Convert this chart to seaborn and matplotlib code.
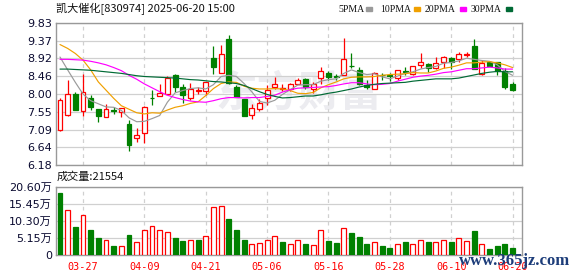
import numpy as np
import pandas as pd
import matplotlib
matplotlib.use("Agg")
import matplotlib.pyplot as plt
from matplotlib.patches import Rectangle
import seaborn as sns

title = "凯大催化[830974] 2025-06-20 15:00"
dates = ["03-24", "03-25", "03-26", "03-27", "03-28", "03-31", "04-01", "04-02", "04-03", "04-07",
         "04-08", "04-09", "04-10", "04-11", "04-14", "04-15", "04-16", "04-17", "04-18", "04-21",
         "04-22", "04-23", "04-24", "04-25", "04-28", "04-29", "04-30", "05-06", "05-07", "05-08",
         "05-09", "05-12", "05-13", "05-14", "05-15", "05-16", "05-19", "05-20", "05-21", "05-22",
         "05-23", "05-26", "05-27", "05-28", "05-29", "05-30", "06-03", "06-04", "06-05", "06-06",
         "06-09", "06-10", "06-11", "06-12", "06-13", "06-16", "06-17", "06-18", "06-19", "06-20"]
opens = [7.07, 7.47, 8.00, 7.57, 7.89, 7.62, 7.41, 7.60, 7.55, 7.22,
         6.86, 6.99, 7.91, 7.94, 8.00, 8.48, 8.17, 7.91, 8.08, 8.08,
         8.92, 8.53, 9.42, 8.17, 7.87, 7.46, 7.62, 7.89, 8.17, 8.13,
         8.13, 8.27, 8.39, 8.12, 8.42, 8.54, 8.45, 8.50, 8.73, 8.62,
         8.23, 8.13, 8.50, 8.49, 8.42, 8.58, 8.52, 8.74, 8.77, 8.67,
         8.81, 8.92, 8.89, 8.99, 9.23, 8.52, 8.81, 8.83, 8.58, 8.27]
highs = [7.89, 8.37, 8.06, 8.52, 7.97, 7.62, 7.75, 7.66, 7.64, 7.33,
         7.12, 7.70, 8.10, 8.27, 8.46, 8.52, 8.27, 8.29, 8.18, 8.30,
         9.23, 9.27, 9.52, 8.23, 7.87, 7.75, 7.87, 8.23, 8.45, 8.25,
         8.29, 8.42, 8.41, 8.31, 8.70, 8.60, 8.52, 9.45, 9.06, 8.70,
         8.35, 8.56, 8.54, 8.54, 8.62, 8.70, 8.72, 9.04, 8.79, 8.96,
         8.98, 8.95, 9.08, 9.09, 9.42, 8.87, 8.84, 8.83, 8.67, 8.31]
lows = [7.04, 7.43, 7.60, 7.43, 7.60, 7.28, 7.41, 7.49, 7.41, 6.53,
        6.78, 6.75, 7.71, 7.94, 8.00, 8.06, 7.77, 7.85, 7.99, 7.97,
        8.52, 8.53, 8.27, 7.93, 7.43, 7.37, 7.56, 7.72, 8.14, 8.08,
        8.08, 8.25, 8.14, 8.02, 8.27, 8.35, 8.35, 8.48, 8.67, 8.23,
        8.14, 8.13, 8.37, 8.33, 8.35, 8.48, 8.48, 8.66, 8.56, 8.64,
        8.67, 8.64, 8.81, 8.94, 8.64, 8.49, 8.71, 8.48, 8.13, 8.07]
closes = [7.85, 7.99, 7.60, 8.05, 7.66, 7.43, 7.62, 7.56, 7.63, 6.70,
          6.96, 7.67, 7.89, 8.02, 8.41, 8.18, 7.97, 8.13, 8.09, 8.30,
          8.69, 9.02, 8.29, 7.93, 7.43, 7.64, 7.77, 8.10, 8.27, 8.15,
          8.25, 8.37, 8.17, 8.27, 8.60, 8.45, 8.44, 8.89, 8.71, 8.27,
          8.19, 8.54, 8.48, 8.47, 8.62, 8.56, 8.72, 8.83, 8.67, 8.79,
          8.95, 8.81, 9.02, 9.03, 8.64, 8.79, 8.73, 8.58, 8.18, 8.10]
prev_close = 8.20
volumes = [18.8, 13.7, 8.3, 12.1, 7.4, 5.0, 4.6, 2.6, 2.6, 5.9,
           3.8, 7.6, 8.7, 7.4, 6.8, 5.2, 4.1, 4.6, 4.4, 5.6,
           14.4, 14.7, 11.0, 7.4, 4.4, 3.4, 3.7, 4.4, 5.8, 3.8,
           3.4, 4.6, 3.2, 3.1, 7.4, 4.1, 3.6, 8.1, 6.6, 5.4,
           3.2, 3.8, 2.6, 2.1, 3.4, 3.8, 3.4, 4.6, 3.8, 3.8,
           4.4, 3.8, 5.2, 4.1, 7.1, 3.4, 1.7, 2.8, 3.2, 2.1554]
ma5 = [8.95, 8.62, 8.30, 8.00, 7.83, 7.75, 7.67, 7.66, 7.58, 7.39,
       7.29, 7.30, 7.37, 7.45, 7.79, 8.03, 8.09, 8.14, 8.16, 8.13,
       8.24, 8.45, 8.48, 8.45, 8.27, 8.06, 7.81, 7.77, 7.84, 7.99,
       8.11, 8.23, 8.24, 8.24, 8.33, 8.37, 8.39, 8.53, 8.62, 8.55,
       8.50, 8.52, 8.44, 8.39, 8.46, 8.53, 8.57, 8.64, 8.68, 8.71,
       8.79, 8.81, 8.85, 8.92, 8.89, 8.86, 8.84, 8.75, 8.58, 8.48]
ma10 = [9.27, 9.17, 9.04, 8.87, 8.62, 8.31, 8.10, 7.89, 7.70, 7.61,
        7.52, 7.49, 7.52, 7.51, 7.59, 7.66, 7.70, 7.76, 7.80, 7.96,
        8.14, 8.27, 8.31, 8.30, 8.20, 8.15, 8.13, 8.13, 8.14, 8.13,
        8.09, 8.02, 8.01, 8.04, 8.16, 8.24, 8.31, 8.39, 8.43, 8.44,
        8.44, 8.45, 8.48, 8.50, 8.51, 8.52, 8.55, 8.54, 8.54, 8.59,
        8.66, 8.69, 8.74, 8.80, 8.80, 8.82, 8.83, 8.80, 8.75, 8.68]
ma20 = [8.89, 8.89, 8.88, 8.87, 8.84, 8.80, 8.75, 8.68, 8.60, 8.48,
        8.38, 8.26, 8.16, 8.06, 7.97, 7.91, 7.86, 7.82, 7.80, 7.79,
        7.83, 7.88, 7.91, 7.91, 7.90, 7.91, 7.91, 7.94, 7.97, 8.05,
        8.11, 8.15, 8.16, 8.17, 8.18, 8.19, 8.22, 8.26, 8.29, 8.29,
        8.26, 8.24, 8.25, 8.27, 8.33, 8.38, 8.43, 8.46, 8.48, 8.51,
        8.55, 8.57, 8.61, 8.65, 8.65, 8.67, 8.69, 8.67, 8.64, 8.64]
ma30 = [8.64, 8.64, 8.63, 8.62, 8.61, 8.59, 8.57, 8.55, 8.53, 8.50,
        8.47, 8.45, 8.44, 8.43, 8.42, 8.41, 8.39, 8.37, 8.36, 8.34,
        8.32, 8.31, 8.29, 8.27, 8.22, 8.14, 8.06, 7.99, 7.94, 7.90,
        7.91, 7.93, 7.95, 7.95, 7.98, 8.02, 8.05, 8.09, 8.13, 8.18,
        8.22, 8.25, 8.27, 8.28, 8.29, 8.30, 8.33, 8.35, 8.37, 8.39,
        8.39, 8.39, 8.41, 8.45, 8.49, 8.53, 8.56, 8.58, 8.57, 8.57]
ma_names = ["5PMA", "10PMA", "20PMA", "30PMA"]
price_ticks = [6.18, 6.64, 7.09, 7.55, 8.00, 8.46, 8.92, 9.37, 9.83]
vol_ticks = [0, 5.15, 10.30, 15.45, 20.60]
vol_tick_labels = ["0", "5.15万", "10.30万", "15.45万", "20.60万"]
date_ticks = ["03-27", "04-09", "04-21", "05-06", "05-16", "05-28", "06-10", "06-20"]
last_volume = 21554

sns.set_theme(style="white")
plt.rcParams['font.family'] = ['DejaVu Sans', 'Noto Sans CJK SC']

UP = '#ff0000'
DOWN = '#008000'
ma_colors = {'5PMA': '#9a9a9a', '10PMA': '#f0a000', '20PMA': '#ff00ff', '30PMA': '#006a35'}
GRID = '#d0d0d0'
SPINE = '#999999'
LABEL = '#0a0a30'

W, H = 578, 276
fig = plt.figure(figsize=(W / 100, H / 100), dpi=100)
fig.patch.set_facecolor('white')
axp = fig.add_axes([56 / W, 1 - 165 / H, 466 / W, (165 - 22.7) / H])
axv = fig.add_axes([56 / W, 1 - 255 / H, 466 / W, (255 - 186.7) / H], sharex=axp)

n = len(dates)
x = np.arange(n)
o = np.array(opens); c = np.array(closes); h = np.array(highs); l = np.array(lows)
up = c >= o
prevs = np.concatenate([[prev_close], c[:-1]])
vol_up = c >= prevs

# watermark
axp.text(0.52, 0.50, "东方财富", transform=axp.transAxes, ha='center', va='center',
         fontsize=30, fontweight='bold', color='#ececf0', family=['Noto Sans CJK SC'],
         zorder=0.5, style='italic')

# wicks
axp.vlines(x, l, h, colors=np.where(up, UP, DOWN), linewidth=0.9, zorder=2)
# bodies
body_h = np.maximum(np.abs(c - o), 0.012)
body_b = np.minimum(o, c)
axp.bar(x, body_h, bottom=body_b, width=0.64,
        color=np.where(up, 'white', DOWN), edgecolor=np.where(up, UP, DOWN),
        linewidth=0.9, zorder=3)

# moving averages via seaborn
df = pd.DataFrame({'x': np.tile(x, 4),
                   'value': np.concatenate([ma5, ma10, ma20, ma30]),
                   'ma': np.repeat(ma_names, n)})
sns.lineplot(data=df, x='x', y='value', hue='ma', palette=ma_colors, ax=axp,
             legend=False, linewidth=0.85, zorder=4)

# volume
axv.bar(x, volumes, width=0.64, color=np.where(vol_up, 'white', DOWN),
        edgecolor=np.where(vol_up, UP, DOWN), linewidth=0.9, zorder=3)

tick_pos = [dates.index(d) for d in date_ticks]
for ax in (axp, axv):
    ax.set_xlim(-0.52, 60.23)
    ax.set_xticks(tick_pos)
    ax.xaxis.grid(True, color=GRID, linestyle=(0, (3, 3)), linewidth=0.9)
    ax.yaxis.grid(True, color=GRID, linestyle='-', linewidth=0.9)
    ax.set_axisbelow(True)
    for s in ax.spines.values():
        s.set_color(SPINE)
        s.set_linewidth(1.0)
        s.set_visible(True)
    ax.tick_params(length=0)
    ax.set_xlabel('')
    ax.set_ylabel('')
    ax.set_facecolor('white')

axp.set_ylim(6.18, 9.83)
axp.set_yticks(price_ticks)
axp.set_yticklabels([f"{t:.2f}" for t in price_ticks])
axp.tick_params(axis='y', labelsize=8, labelcolor=LABEL, pad=3)
axp.tick_params(axis='x', labelbottom=False)

axv.set_ylim(0, 20.60)
axv.set_yticks(vol_ticks)
axv.set_yticklabels(vol_tick_labels)
axv.tick_params(axis='y', labelsize=8, labelcolor=LABEL, pad=3)
axv.set_xticklabels(date_ticks)
axv.tick_params(axis='x', labelsize=7.3, labelcolor=UP, pad=5)
for t in axv.get_xticklabels():
    t.set_family(['DejaVu Sans Mono'])

# texts
fig.text(56 / W, 1 - 9 / H, title, fontsize=8, family=['Noto Sans CJK SC'],
         ha='left', va='center', color='#111111')
fig.text(57 / W, 1 - 177 / H, f"成交量:{last_volume}", fontsize=8,
         family=['Noto Sans CJK SC'], ha='left', va='center', color='#111111')

leg_x = [338, 380, 425, 471]
sq_x = [366, 414, 460, 506]
for name, tx, sx in zip(ma_names, leg_x, sq_x):
    fig.text(tx / W, 1 - 9 / H, name, fontsize=7, family=['Liberation Serif'],
             ha='left', va='center', color='#111111')
    fig.add_artist(Rectangle((sx / W, 1 - 11 / H), 6 / W, 4 / H,
                             transform=fig.transFigure, color=ma_colors[name]))

fig.text(570 / W, 1 - 261 / H, "www.365jz.com", fontsize=12, fontweight='bold',
         family=['Liberation Serif'], ha='right', va='center', color='#1d3d7a', zorder=10)

fig.savefig("out.png", dpi=100, facecolor='white')
